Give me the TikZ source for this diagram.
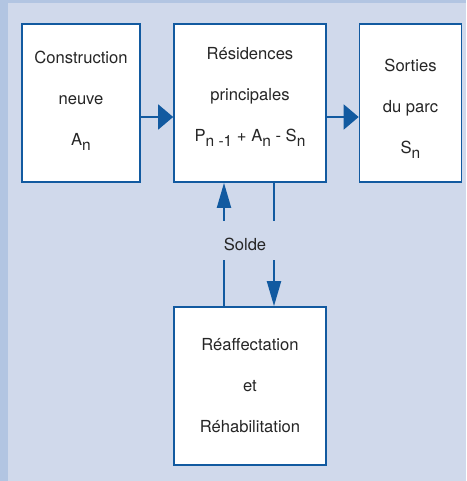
\documentclass[tikz,border=0pt]{standalone}
\usepackage{fontspec}
\setmainfont{TeX Gyre Heros}
\usetikzlibrary{arrows.meta}
\definecolor{bandblue}{RGB}{178,197,226}
\definecolor{fondblue}{RGB}{208,217,235}
\definecolor{traitblue}{RGB}{18,90,160}
\newcommand\idx[1]{\raisebox{-5pt}{\fontsize{15.5}{15.5}\selectfont #1}}
\begin{document}
\begin{tikzpicture}[x=1pt, y=-1pt,
  boite/.style={draw=traitblue, line width=1.7pt, fill=white, inner sep=0pt},
  texte/.style={align=center, text=black!85, font=\fontsize{16.6}{41}\selectfont, inner sep=0pt},
  trait/.style={draw=traitblue, line width=2pt},
  hfleche/.style={trait, -{Triangle[length=15pt,width=25pt]}},
  vfleche/.style={trait, -{Triangle[length=25pt,width=14pt]}}]
\useasboundingbox (0,0) rectangle (466,481);
\fill[bandblue] (0,0) rectangle (466,481);
\fill[fondblue] (8,3) rectangle (466,481);
\node[boite, minimum width=118pt, minimum height=158pt] (cons) at (81,103) {};
\node[boite, minimum width=152pt, minimum height=158pt] (resi) at (250,103) {};
\node[boite, minimum width=102pt, minimum height=158pt] (sort) at (410.5,103) {};
\node[boite, minimum width=152pt, minimum height=158pt] (reaf) at (250,386) {};
\node[texte, yshift=2.4pt] (cons-t) at (cons) {Construction\\neuve\\A\idx{n}};
\node[texte, yshift=6.5pt] (resi-t) at (resi) {Résidences\\principales\\P\idx{n -1} + A\idx{n} - S\idx{n}};
\node[texte, yshift=-5.6pt] (sort-t) at (sort) {Sorties\\du parc\\S\idx{n}};
\node[texte] (reaf-t) at (reaf) {Réaffectation\\et\\Réhabilitation};
\node[texte, text height=19pt, text depth=0pt, minimum height=39pt] (solde) at (245,240.5) {Solde};
\draw[hfleche] ([yshift=-14pt]cons.east) -- ([yshift=-14pt]resi.west);
\draw[hfleche] ([yshift=-14pt]resi.east) -- ([yshift=-14pt]sort.west);
\coordinate (gauche) at ([xshift=-26pt]resi.south);
\coordinate (droite) at ([xshift=24pt]resi.south);
\draw[trait] (gauche |- reaf.north) -- (gauche |- solde.south);
\draw[vfleche] (gauche |- solde.north) -- (gauche);
\draw[trait] (droite) -- (droite |- solde.north);
\draw[vfleche] (droite |- solde.south) -- (droite |- reaf.north);
\end{tikzpicture}
\end{document}
